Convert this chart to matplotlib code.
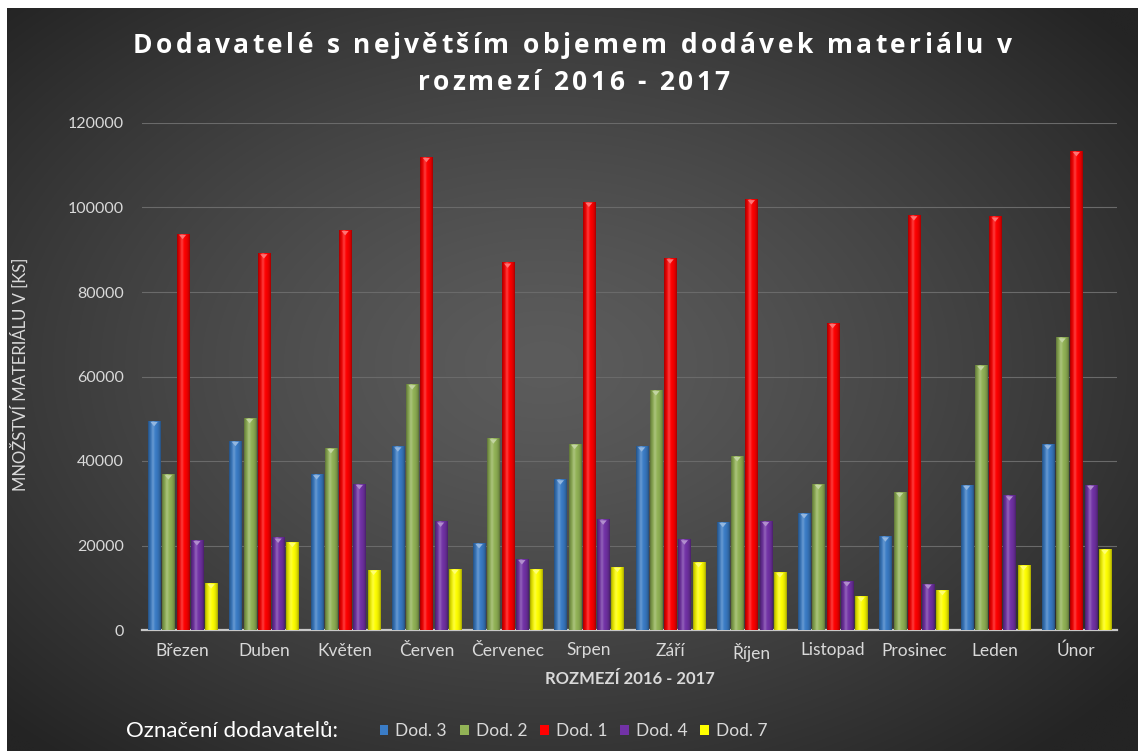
import numpy as np
import matplotlib
matplotlib.use("Agg")
import matplotlib.pyplot as plt
from matplotlib.patches import Patch
from matplotlib.colors import to_rgb

# ------------------------------------------------------------
# data
# ------------------------------------------------------------
mesice = ["Březen", "Duben", "Květen", "Červen", "Červenec", "Srpen",
          "Září", "Říjen", "Listopad", "Prosinec", "Leden", "Únor"]

dod_3 = [49500, 44800, 36900, 43500, 20600, 35700, 43500, 25600, 27700, 22200, 34400, 44000]
dod_2 = [36900, 50200, 43100, 58200, 45400, 44100, 56800, 41200, 34600, 32700, 62700, 69300]
dod_1 = [93800, 89200, 94700, 112000, 87000, 101400, 88000, 102000, 72700, 98200, 97900, 113400]
dod_4 = [21300, 21900, 34600, 25700, 16800, 26200, 21500, 25800, 11600, 11000, 31900, 34400]
dod_7 = [11100, 20900, 14300, 14500, 14500, 15000, 16100, 13700, 8000, 9500, 15400, 19200]

serie_nazvy = ["Dod. 3", "Dod. 2", "Dod. 1", "Dod. 4", "Dod. 7"]
serie_hodnoty = [dod_3, dod_2, dod_1, dod_4, dod_7]
barvy = ["#3a7cc6", "#92b356", "#ff0000", "#7232a6", "#ffff00"]

title_lines = ["Dodavatelé s největším objemem dodávek materiálu v", "rozmezí 2016 - 2017"]

W, H = 1138, 751
TEXT_C = "#d9d9d9"

fig = plt.figure(figsize=(W / 100, H / 100), dpi=100, facecolor="white")

# dark radial background (leaves thin white strip top/left like the source)
bg = fig.add_axes([7 / W, 0, 1 - 7 / W, 1 - 8 / H])
bg.set_axis_off()
yy, xx = np.mgrid[0:H, 0:W]
r = np.sqrt(((xx - 540) / 760.0) ** 2 + ((yy - 360) / 520.0) ** 2)
r = np.clip(r, 0, 1)
val = (92 - (92 - 36) * r ** 1.3) / 255.0
bg.imshow(np.dstack([val, val, val]), aspect="auto", extent=(0, 1, 0, 1))
bg.set_xlim(0, 1)
bg.set_ylim(0, 1)

ax = fig.add_axes([142 / W, 1 - 630 / H, (1117 - 142) / W, (630 - 123) / H])
ax.set_facecolor("none")

x = np.arange(len(mesice))
pitch = 0.1754
sirka = 0.148
offs = (np.arange(len(serie_nazvy)) - 2) * pitch


def shade_img(color):
    base = np.array(to_rgb(color))
    t = np.linspace(0, 1, 40)
    f = 0.62 + 0.38 * np.sin(np.pi * t) ** 0.6
    hl = 0.22 * np.exp(-((t - 0.38) / 0.12) ** 2)
    rows = base[None, :] * f[:, None]
    rows = rows + (1 - rows) * hl[:, None]
    return np.clip(rows[None, :, :], 0, 1)


def lighter(color, k=0.45):
    c = np.array(to_rgb(color))
    return tuple(c + (1 - c) * k)


for i, (nazev, hodnoty, barva) in enumerate(zip(serie_nazvy, serie_hodnoty, barvy)):
    bars = ax.bar(x + offs[i], hodnoty, width=sirka, color=barva, zorder=3, label=nazev)
    img = shade_img(barva)
    for b in bars:
        x0, y0, bw, bh = b.get_x(), b.get_y(), b.get_width(), b.get_height()
        im = ax.imshow(img, extent=(x0, x0 + bw, y0, y0 + bh),
                       aspect="auto", zorder=3.5, interpolation="bilinear")
        im.set_clip_path(b)
        # small bevel on the top
        ax.fill([x0 + bw * 0.2, x0 + bw * 0.8, x0 + bw * 0.5],
                [y0 + bh - 250, y0 + bh - 250, y0 + bh - 1300],
                color=lighter(barva), zorder=4, lw=0)

ax.set_xlim(-0.5, len(mesice) - 0.5)
ax.set_ylim(0, 120000)
ax.set_yticks(np.arange(0, 120001, 20000))
ax.set_xticks(x)
ax.set_xticklabels(mesice)

ax.grid(axis="y", color="#6a6a6a", linewidth=0.8, zorder=0)
ax.set_axisbelow(True)
for s in ["top", "right", "left"]:
    ax.spines[s].set_visible(False)
ax.spines["bottom"].set_color("#c8c8c8")
ax.spines["bottom"].set_linewidth(1.6)
ax.tick_params(axis="x", length=0, colors=TEXT_C, labelsize=12.5, pad=9)
ax.tick_params(axis="y", length=0, colors=TEXT_C, labelsize=11.5, pad=13)
for lab in ax.get_xticklabels() + ax.get_yticklabels():
    lab.set_family("Lato")
    lab.set_color(TEXT_C)

ax.set_xlabel("ROZMEZÍ 2016 - 2017", family="Lato", fontweight="bold",
              fontsize=12, color=TEXT_C, labelpad=7)
fig.text(20 / W, 1 - 374 / H, "MNOŽSTVÍ MATERIÁLU V [KS]", rotation=90,
         family="Lato", fontsize=12, color=TEXT_C, ha="center", va="center")

# title with letter spacing (tracking), laid out character by character
renderer = fig.canvas.get_renderer()
tkw = dict(family="Open Sans", fontweight="bold", fontsize=19, color="white")


def text_width(s):
    t = fig.text(0, 0, s + "|", **tkw)
    w = t.get_window_extent(renderer).width
    t.remove()
    t = fig.text(0, 0, "|", **tkw)
    w -= t.get_window_extent(renderer).width
    t.remove()
    return w


def tracked(s, xc, ybase, track):
    total = text_width(s) + track * (len(s) - 1)
    x0 = xc - total / 2
    for k, ch in enumerate(s):
        if ch == " ":
            continue
        px = x0 + (text_width(s[:k]) if k else 0) + track * k
        fig.text(px / W, 1 - ybase / H, ch, ha="left", va="baseline", **tkw)


line1_target = 1012 - 133
track = (line1_target - text_width(title_lines[0])) / (len(title_lines[0]) - 1)
tracked(title_lines[0], 572.5, 53, track)
tracked(title_lines[1], 573.5, 90, track)

# legend
fig.text(126 / W, 1 - 731 / H, "Označení dodavatelů:", family="Lato",
         fontsize=16, color="white", ha="left", va="center")
handles = [Patch(facecolor=c) for c in barvy]
leg = fig.legend(handles, serie_nazvy, loc="center left",
                 bbox_to_anchor=(364 / W, 1 - 731 / H), ncol=5, frameon=False,
                 handlelength=0.5, handleheight=0.55, handletextpad=0.4,
                 columnspacing=0.75, prop={"family": "Lato", "size": 12.5})
for t in leg.get_texts():
    t.set_color(TEXT_C)

fig.savefig("out.png", dpi=100, facecolor=fig.get_facecolor())
